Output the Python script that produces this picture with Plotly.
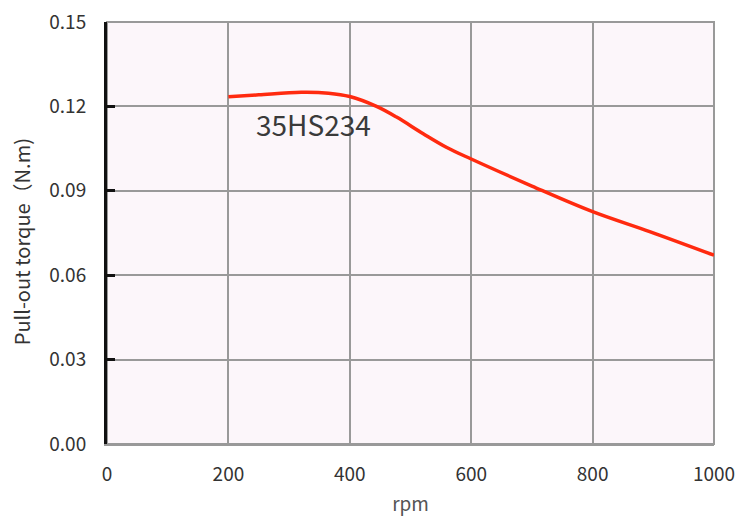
import plotly.graph_objects as go

rpm = [200, 250, 320, 365, 400, 444, 477, 521, 559, 600, 700, 800, 894, 1000]
torque = [0.1234, 0.1241, 0.1250, 0.1247, 0.1235, 0.1200, 0.1162, 0.1103, 0.1055, 0.1013,
          0.0917, 0.0826, 0.0755, 0.0671]
x_ticks = [0, 200, 400, 600, 800, 1000]
y_ticks = [0.00, 0.03, 0.06, 0.09, 0.12, 0.15]
label = "35HS234"
y_title = "Pull-out torque（N.m)"

FONT = "Noto Sans CJK SC, Noto Sans, sans-serif"

fig = go.Figure()
fig.add_trace(go.Scatter(x=rpm, y=torque, mode="lines",
                         line=dict(color="#ff2a0f", width=3.5, shape="spline", smoothing=1.0),
                         showlegend=False, hoverinfo="skip"))

fig.add_annotation(x=341, y=0.1136, text=label, showarrow=False,
                   font=dict(family=FONT, size=28, color="#3a3a3a"))

fig.add_annotation(xref="paper", yref="paper", x=-0.141, y=0.479, text=y_title,
                   showarrow=False, textangle=-90, xanchor="center", yanchor="middle",
                   font=dict(family=FONT, size=20, color="#333333"))

fig.add_shape(type="rect", xref="paper", yref="paper", x0=0, y0=0, x1=1, y1=1,
              line=dict(color="#999999", width=2), layer="below")

fig.update_layout(
    width=750, height=524,
    margin=dict(l=99, r=44, t=14, b=88),
    paper_bgcolor="white",
    plot_bgcolor="#fcf6fa",
    font=dict(family=FONT, size=19, color="#333333"),
    xaxis=dict(range=[0, 1000], tickvals=x_ticks, ticktext=[str(v) for v in x_ticks],
               showgrid=True, gridcolor="#999999", gridwidth=2,
               showline=True, linecolor="#999999", linewidth=2,
               ticks="", zeroline=False, automargin=False,
               ticklabelstandoff=12, ticklabeloverflow="allow",
               title=dict(text="rpm", font=dict(size=19, color="#555555"), standoff=13),
               tickfont=dict(size=19, color="#333333")),
    yaxis=dict(range=[0, 0.1500001], tickvals=y_ticks, ticktext=[f"{v:.2f}" for v in y_ticks],
               showgrid=True, gridcolor="#999999", gridwidth=2,
               showline=True, linecolor="#111111", linewidth=3,
               ticks="inside", ticklen=8, tickwidth=3, tickcolor="#111111",
               zeroline=False, automargin=False,
               ticklabelstandoff=14, ticklabeloverflow="allow",
               tickfont=dict(size=19, color="#333333")),
)

fig.write_html("out.html")
